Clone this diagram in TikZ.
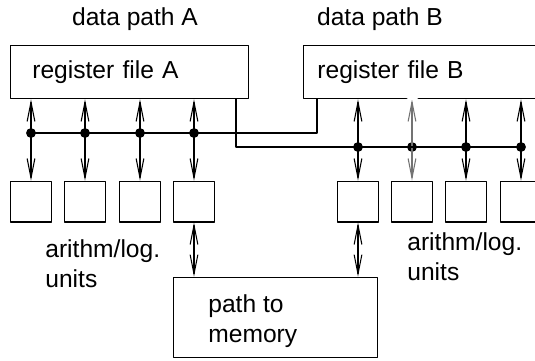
\documentclass[tikz,border=0pt]{standalone}
\usepackage{fontspec}
\setmainfont{Liberation Sans}
\usetikzlibrary{arrows.meta, positioning}

\tikzset{
  regbox/.style={draw, line width=0.6pt, minimum height=30.6pt, inner ysep=0pt, align=left, font=\fontsize{14}{17}\selectfont},
  alu/.style={draw, line width=0.6pt, minimum width=23.3pt, minimum height=23.3pt, inner sep=0pt},
  busdot/.style={circle, fill, inner sep=0pt, minimum size=5.6pt},
  lbl/.style={font=\fontsize{14}{17}\selectfont, align=left, inner sep=0pt},
  bus/.style={line width=0.6pt},
  link/.style={line width=0.6pt, -{Straight Barb[length=11pt,width=4.4pt]}},
  dlink/.style={line width=0.6pt, {Straight Barb[length=11pt,width=4.4pt]}-{Straight Barb[length=11pt,width=4.4pt]}}
}

\begin{document}
\begin{tikzpicture}[x=0.02cm, y=-0.02cm, line cap=round, line join=round]
  \clip (0,0) rectangle (535,360);

  % register files
  \node[lbl, anchor=base] (titleA) at (135,25) {data path A};
  \node[lbl, anchor=base] (titleB) at (380,25) {data path B};
  \node[regbox, inner xsep=12.5pt, text width=110.6pt] (regA) at (129.5,72) {register file A};
  \node[regbox, inner xsep=7.9pt, text width=129.9pt] (regB) at (431.5,72) {register file B};

  % data path A
  \foreach \x [count=\i] in {31,85,140,194} {
    \node[alu] (aluA\i) at (\x,201.5) {};
    \node[busdot] (dA\i) at (\x,133) {};
    \draw[link] (dA\i.center) -- (dA\i |- regA.south);
    \draw[link] (dA\i.center) -- (aluA\i);
  }

  % data path B
  \foreach \x/\c [count=\i] in {358/black, 412/black!55, 466/black, 521/black} {
    \node[alu] (aluB\i) at (\x,201.5) {};
    \node[busdot] (dB\i) at (\x,147) {};
    \draw[link, \c] (dB\i.center) -- (dB\i |- regB.south);
    \draw[link, \c] (dB\i.center) -- (aluB\i);
  }
  \draw[white, line width=1.6pt] (408,99) -- (417,99);

  % cross buses
  \coordinate (outA) at (236,99);
  \coordinate (inB) at (317,99);
  \draw[bus] (dA1.center) -| (inB);
  \draw[bus] (outA) |- (dB4.center);

  \node[lbl, anchor=north west] (unitsA) at (45,239) {arithm/log.\\units};
  \node[lbl, anchor=north west] (unitsB) at (407,232) {arithm/log.\\units};

  % memory
  \node[draw, line width=0.6pt, minimum width=116.2pt, minimum height=45.9pt] (mem) at (275.5,317.5) {};
  \node[lbl, anchor=north west] (memtxt) at (208,294) {path to\\memory};
  \draw[dlink] (aluA4) -- (aluA4 |- mem.north);
  \draw[dlink] (aluB1) -- (aluB1 |- mem.north);
\end{tikzpicture}
\end{document}
